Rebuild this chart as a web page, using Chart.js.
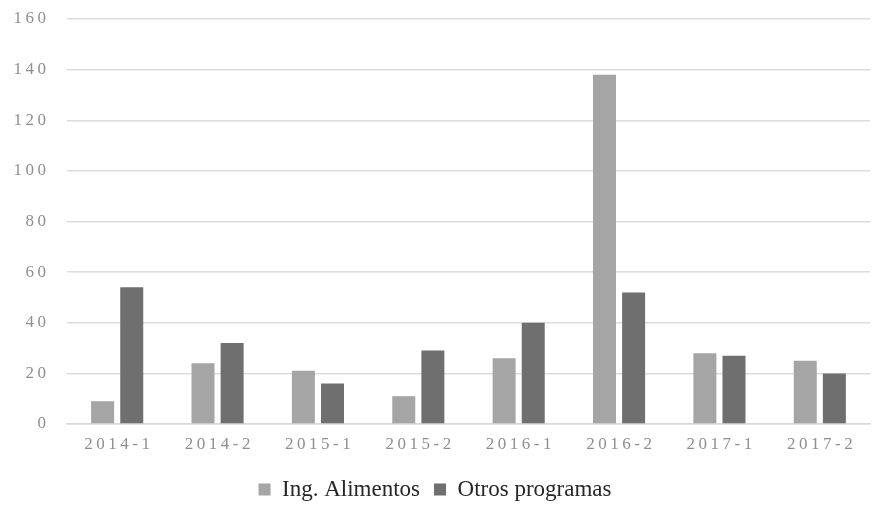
<!DOCTYPE html>
<html>
<head>
<meta charset="utf-8">
<script src="https://cdn.jsdelivr.net/npm/chart.js@4"></script>
<style>
  html, body { margin: 0; padding: 0; background: #fff; }
  #wrap { width: 878px; height: 515px; }
</style>
</head>
<body>
<div id="wrap"><canvas id="chart" width="878" height="515"></canvas></div>
<script>
// valores
const categories = ['2014-1', '2014-2', '2015-1', '2015-2', '2016-1', '2016-2', '2017-1', '2017-2'];
const ingAlimentos = [9, 24, 21, 11, 26, 138, 28, 25];
const otrosProgramas = [54, 32, 16, 29, 40, 52, 27, 20];
const yMin = 0, yMax = 160, yStep = 20;

const SERIF = 'Liberation Serif';
Chart.defaults.font.family = SERIF;
const ctx = document.getElementById('chart').getContext('2d');

// etiquetas de ejes con letras separadas, como en el original.
// la familia se fuerza aqui porque chrome la perdia; letra por letra en vez de letterSpacing
function fontSize() {
    const m = /(\d+(?:\.\d+)?)px/.exec(ctx.font);
    return m ? parseFloat(m[1]) : 12;
}
function forceSerif() {
    const size = fontSize();
    ctx.font = size + 'px Liberation Serif';
    return size === 17 ? 3.5 : 0;
}
const origFill = ctx.fillText.bind(ctx);
const origMeasure = ctx.measureText.bind(ctx);
ctx.measureText = function (t) {
    const s = forceSerif();
    const m = origMeasure(t);
    if (!s) return m;
    return {
        width: m.width + s * (String(t).length - 1),
        actualBoundingBoxAscent: m.actualBoundingBoxAscent,
        actualBoundingBoxDescent: m.actualBoundingBoxDescent
    };
};
ctx.fillText = function (t, x, y, w) {
    const s = forceSerif();
    if (!s) return w === undefined ? origFill(t, x, y) : origFill(t, x, y, w);
    t = String(t);
    const total = ctx.measureText(t).width;
    const align = ctx.textAlign;
    let cx = x;
    if (align === 'center') cx = x - total / 2;
    else if (align === 'right' || align === 'end') cx = x - total;
    ctx.textAlign = 'left';
    for (const ch of t) {
        origFill(ch, cx, y);
        cx += origMeasure(ch).width + s;
    }
    ctx.textAlign = align;
};

const myChart = new Chart(ctx, {
    type: 'bar',
    data: {
        labels: categories,
        datasets: [{
            label: 'Ing. Alimentos',
            data: ingAlimentos,
            backgroundColor: '#a5a5a5',
            borderWidth: 0,
            categoryPercentage: 0.58,
            barPercentage: 0.79
        }, {
            label: 'Otros programas',
            data: otrosProgramas,
            backgroundColor: '#6f6f6f',
            borderWidth: 0,
            categoryPercentage: 0.58,
            barPercentage: 0.79
        }]
    },
    options: {
        responsive: false,
        animation: false,
        layout: { padding: { top: 19, right: 8, bottom: 4, left: 0 } },
        scales: {
            x: {
                grid: { display: false, drawTicks: false },
                border: { color: '#d9d9d9', width: 1.5 },
                ticks: {
                    color: '#8f8f8f',
                    font: { family: SERIF, size: 17 },
                    padding: 10,
                    maxRotation: 0
                },
                afterFit: s => { s.height = 40; }
            },
            y: {
                min: yMin,
                max: yMax,
                ticks: {
                    stepSize: yStep,
                    color: '#8f8f8f',
                    font: { family: SERIF, size: 17 },
                    padding: 21
                },
                grid: { color: '#dcdcdc', lineWidth: 1.5, drawTicks: false },
                border: { display: false },
                afterFit: s => { s.width = 67; s.paddingTop = 0; }
            }
        },
        plugins: {
            legend: {
                position: 'bottom',
                labels: {
                    color: '#262626',
                    font: { family: SERIF, size: 23 },
                    boxWidth: 12,
                    boxHeight: 12,
                    padding: 14
                }
            },
            tooltip: { enabled: false }
        }
    }
});
</script>
</body>
</html>
